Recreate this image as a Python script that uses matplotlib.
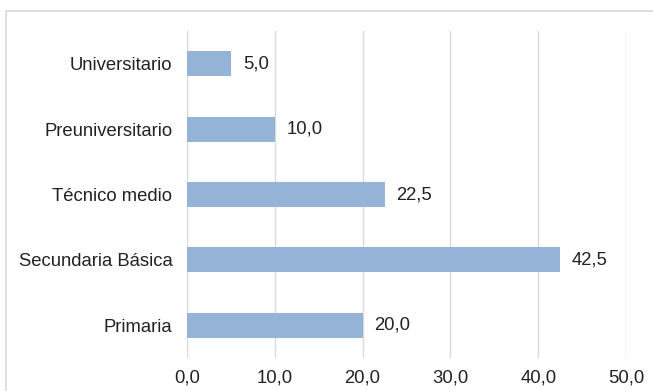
import matplotlib.pyplot as plt
from matplotlib.patches import Rectangle

# --- data ---
categories = ['Primaria', 'Secundaria Básica', 'Técnico medio', 'Preuniversitario', 'Universitario']
values = [20.0, 42.5, 22.5, 10.0, 5.0]
ticks = [0, 10, 20, 30, 40, 50]

plt.rcParams['font.family'] = ['Liberation Sans', 'DejaVu Sans']
FS = 13.3

W, H = 653, 391
fig = plt.figure(figsize=(W / 100, H / 100), dpi=100)
ax = fig.add_axes([187 / W, 1 - 358 / H, (626 - 187) / W, (358 - 31) / H])

# outer chart frame (runs off the right and bottom edges)
fig.patches.append(Rectangle((6 / W, -0.5), 2, 0.5 + 1 - 11 / H, transform=fig.transFigure,
                             fill=False, edgecolor='#d9d9d9', linewidth=1.2))

y = range(len(categories))
ax.barh(y, values, height=0.38, color='#95b3d7', zorder=3)

for yi, v in zip(y, values):
    ax.annotate(f'{v:.1f}'.replace('.', ','), (v, yi), xytext=(8.5, 0), textcoords='offset points',
                va='center', ha='left', fontsize=FS, color='#222222')

ax.set_xlim(0, 50)
ax.set_ylim(-0.5, len(categories) - 0.5)
ax.set_xticks(ticks)
ax.set_xticklabels([f'{t:.1f}'.replace('.', ',') for t in ticks], fontsize=FS, color='#222222')
ax.set_yticks(list(y))
ax.set_yticklabels(categories, fontsize=FS, color='#222222')
ax.tick_params(length=0, pad=8)
ax.tick_params(axis='y', pad=10.5)

ax.grid(axis='x', color='#d9d9d9', linewidth=1, zorder=0)
for s in ax.spines.values():
    s.set_visible(False)

fig.savefig('out.png', dpi=100)
